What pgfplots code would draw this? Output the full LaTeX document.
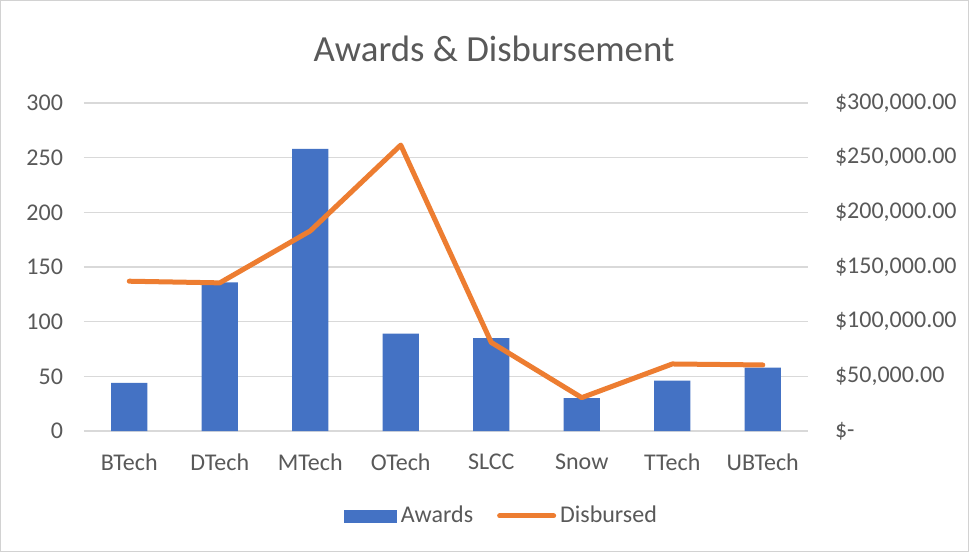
\documentclass[border=0pt]{standalone}
\usepackage{pgfplots}
\pgfplotsset{compat=1.18}
\usepackage{fontspec}
\setmainfont{Carlito}
\definecolor{barblue}{HTML}{4472C4}
\definecolor{lineorange}{HTML}{ED7D31}
\definecolor{txtgray}{HTML}{595959}
\definecolor{gridgray}{HTML}{D9D9D9}
\begin{document}
\begin{tikzpicture}
\draw[gray!35, line width=0.5pt, fill=white] (0.25pt,0.25pt) rectangle (484.25pt,275.75pt);
\node[text=txtgray, font=\fontsize{18.4}{22}\selectfont] at (247pt,251.5pt) {Awards \& Disbursement};
\begin{axis}[
  at={(42pt,60.5pt)}, anchor=south west,
  scale only axis, width=362pt, height=164pt,
  xmin=-0.5, xmax=7.5, ymin=0, ymax=300,
  xtick={0,1,2,3,4,5,6,7},
  xticklabels={BTech,DTech,MTech,OTech,SLCC,Snow,TTech,UBTech},
  ytick={0,50,100,150,200,250,300},
  axis x line*=bottom, axis y line*=left,
  axis line style={draw=none},
  major tick length=0pt,
  ymajorgrids, grid style={gridgray, line width=0.6pt},
  tick label style={text=txtgray, font=\fontsize{12}{14}\selectfont},
  xticklabel style={yshift=-8pt},
  yticklabel style={xshift=-7pt},
  /pgf/number format/assume math mode=true,
  ybar, bar width=0.4,
  clip=false,
]
\addplot[fill=barblue, draw=none] coordinates {
 (0,44) (1,136) (2,258) (3,89) (4,85) (5,30) (6,46) (7,58)};
\end{axis}
\begin{axis}[
  at={(42pt,60.5pt)}, anchor=south west,
  scale only axis, width=362pt, height=164pt,
  xmin=-0.5, xmax=7.5, ymin=0, ymax=300000,
  axis x line=none, axis y line*=right,
  axis line style={draw=none},
  major tick length=0pt,
  ytick={0,50000,100000,150000,200000,250000,300000},
  yticklabels={{\$-},{\$50,000.00},{\$100,000.00},{\$150,000.00},{\$200,000.00},{\$250,000.00},{\$300,000.00}},
  scaled y ticks=false,
  yticklabel style={text=txtgray, font=\fontsize{12}{14}\selectfont, anchor=west, xshift=10pt},
  legend columns=2,
  legend style={draw=none, fill=none, at={(0.578,-0.259)}, anchor=center,
    font=\fontsize{12}{14}\selectfont, text=txtgray,
    /tikz/every even column/.append style={column sep=10pt}},
  clip=false,
]
\addlegendimage{legend image code/.code={\fill[barblue] (0pt,-3pt) rectangle (26pt,3pt);}}
\addlegendentry{Awards}
\addplot[lineorange, line width=2.5pt, line cap=round, line join=round, mark=none,
  legend image code/.code={\draw[lineorange, line width=2.5pt, line cap=round] (0pt,0pt) -- (27pt,0pt);}]
 coordinates {
 (0,137000) (1,135500) (2,183000) (3,261500) (4,81000) (5,30500) (6,61300) (7,60400)};
\addlegendentry{Disbursed}
\end{axis}
\end{tikzpicture}
\end{document}
